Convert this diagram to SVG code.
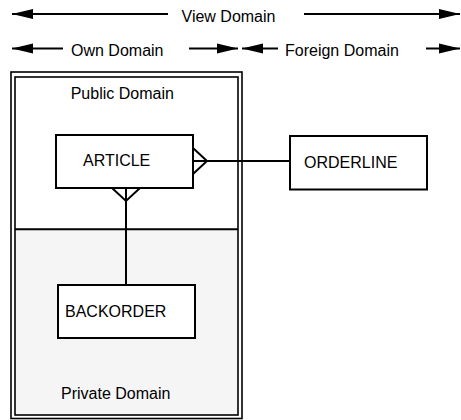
<svg xmlns="http://www.w3.org/2000/svg" width="461" height="420" viewBox="0 0 461 420">
  <style>
    text { font-family: "Liberation Sans", Arial, sans-serif; font-size: 16px; fill: #000; }
    .ln { stroke: #000; stroke-width: 2; fill: none; }
    .box { stroke: #000; stroke-width: 2; fill: #fff; }
    .frame { stroke: #000; stroke-width: 1.6; fill: none; }
  </style>
  <defs>
    <marker id="ah" markerUnits="userSpaceOnUse" markerWidth="22" markerHeight="12" refX="21" refY="5.5" orient="auto-start-reverse" viewBox="0 0 22 12">
      <path d="M0,0.5 L21,5.5 L0,10.5 z" fill="#000"/>
    </marker>
  </defs>

  <g id="domain-axis">
    <line class="ln" x1="12" y1="14" x2="168" y2="14" marker-start="url(#ah)"/>
    <line class="ln" x1="304" y1="14" x2="460" y2="14" marker-end="url(#ah)"/>
    <text x="181.5" y="22">View Domain</text>
    <line class="ln" x1="12" y1="48.5" x2="63" y2="48.5" marker-start="url(#ah)"/>
    <text x="71" y="55.5">Own Domain</text>
    <line class="ln" x1="189" y1="48.5" x2="238" y2="48.5" marker-end="url(#ah)"/>
    <line class="ln" x1="242" y1="48.5" x2="278" y2="48.5" marker-start="url(#ah)"/>
    <text x="285" y="55.5">Foreign Domain</text>
    <line class="ln" x1="426" y1="48.5" x2="460" y2="48.5" marker-end="url(#ah)"/>
  </g>

  <g id="own-domain-frame">
    <rect x="15" y="229" width="223" height="186" fill="#f5f5f5"/>
    <rect class="frame" x="11" y="72" width="231" height="346.5"/>
    <rect class="frame" x="15" y="77" width="223" height="338"/>
    <line class="ln" x1="15" y1="229.3" x2="238" y2="229.3"/>
    <text x="70.7" y="99">Public Domain</text>
    <text x="61" y="399">Private Domain</text>
  </g>

  <g id="connectors">
    <line class="ln" x1="193" y1="161" x2="290" y2="161"/>
    <polyline class="ln" points="193,148 207,161 193,174"/>
    <line class="ln" x1="126" y1="188" x2="126" y2="285"/>
    <polyline class="ln" points="112,188 126,201 140,188"/>
  </g>

  <g id="article">
    <rect class="box" x="56" y="135" width="137" height="53"/>
    <text x="83" y="166">ARTICLE</text>
  </g>

  <g id="orderline">
    <rect class="box" x="290" y="136" width="137" height="53.5"/>
    <text x="304" y="168">ORDERLINE</text>
  </g>

  <g id="backorder">
    <rect class="box" x="58" y="285" width="137" height="53"/>
    <text x="65" y="317">BACKORDER</text>
  </g>
</svg>
